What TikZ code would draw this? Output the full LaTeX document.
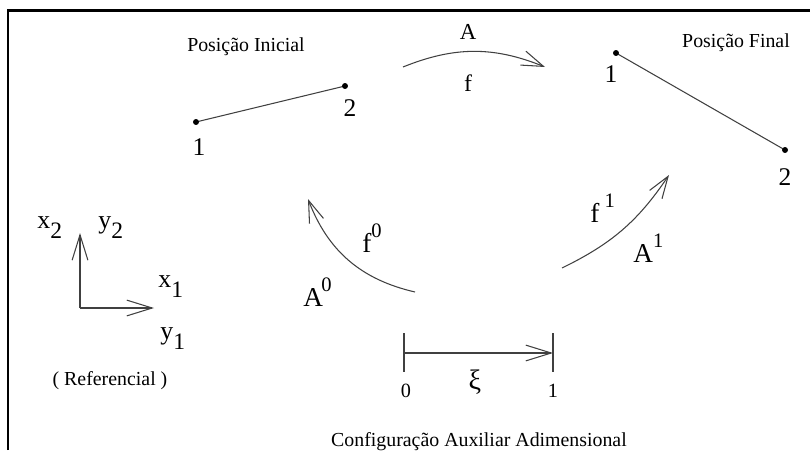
\documentclass[tikz,border=0pt]{standalone}
\usepackage{fontspec}
\setmainfont{Liberation Serif}
\usetikzlibrary{arrows.meta}

\newcommand{\supr}[1]{\raisebox{8.5pt}{\fontsize{11.7}{12}\selectfont #1}}
\newcommand{\subr}[1]{\raisebox{-6.2pt}{\fontsize{13.4}{14}\selectfont #1}}

\begin{document}
\begin{tikzpicture}[x=2cm,y=2cm,
  caption/.style={font=\fontsize{11.3}{13}\selectfont,inner sep=0pt,anchor=base},
  ptlabel/.style={font=\fontsize{14.5}{16}\selectfont,inner sep=0pt,anchor=base},
  maplabel/.style={font=\fontsize{15.5}{17}\selectfont,inner sep=0pt,anchor=base west},
  axlabel/.style={font=\fontsize{14.7}{16}\selectfont,inner sep=0pt,anchor=base west},
  ticklabel/.style={font=\fontsize{11.5}{13}\selectfont,inner sep=0pt,anchor=base},
  seg/.style={draw=black!75,line width=0.6pt},
  dot/.style={fill=black},
  maparr/.style={draw=black!75,line width=0.6pt,-{Straight Barb[length=12.5pt,width=8.5pt]}},
  axarr/.style={draw=black!75,line width=0.6pt,-{Straight Barb[length=14.5pt,width=9pt]}},
]

\useasboundingbox (0,0) rectangle (8.1,4.5);

% Frame
\draw[line width=1.2pt] (0.08,0) -- (0.08,4.395) -- (8.1,4.395);

% Initial position
\node[caption] (tini) at (2.46,3.98) {Posição Inicial};
\coordinate (ini1) at (1.96,3.28);
\coordinate (ini2) at (3.45,3.64);
\draw[seg] (ini1) -- (ini2);
\fill[dot] (ini1) circle[radius=1.7pt];
\fill[dot] (ini2) circle[radius=1.7pt];
\node[ptlabel] (lini1) at (1.99,2.95) {1};
\node[ptlabel] (lini2) at (3.50,3.33) {2};

% Final position
\node[caption] (tfin) at (7.36,4.02) {Posição Final};
\coordinate (fin1) at (6.16,3.97);
\coordinate (fin2) at (7.85,3.00);
\draw[seg] (fin1) -- (fin2);
\fill[dot] (fin1) circle[radius=1.7pt];
\fill[dot] (fin2) circle[radius=1.7pt];
\node[ptlabel] (lfin1) at (6.11,3.67) {1};
\node[ptlabel] (lfin2) at (7.85,2.65) {2};

% Map A, f
\coordinate (aS) at (4.03,3.83);
\coordinate (aE) at (5.45,3.83);
\draw[maparr] (aS) to[bend left=22] (aE);
\node[caption,font=\fontsize{13}{15}\selectfont] (lA) at (4.68,4.10) {A};
\node[caption,font=\fontsize{13.5}{15}\selectfont] (lf) at (4.68,3.58) {f};

% Map A0, f0
\coordinate (a0S) at (4.15,1.58);
\coordinate (a0E) at (3.08,2.51);
\draw[maparr] (a0S) to[bend left=28] (a0E);
\node[maplabel] (lf0) at (3.62,1.98) {f\supr{0}};
\node[maplabel] (lA0) at (3.03,1.44) {A\kern-1pt\supr{0}};

% Map A1, f1
\coordinate (a1S) at (5.62,1.82);
\coordinate (a1E) at (6.69,2.75);
\draw[maparr] (a1S) to[bend right=15] (a1E);
\node[maplabel] (lf1) at (5.90,2.28) {f\kern3pt\supr{1}};
\node[maplabel] (lA1) at (6.33,1.88) {A\supr{1}};

% Reference frame
\coordinate (orig) at (0.80,1.42);
\coordinate (e2) at (0.80,2.17);
\coordinate (e1) at (1.54,1.42);
\draw[axarr] (orig) -- (e2);
\draw[axarr] (orig) -- (e1);
\node[axlabel] (lx2) at (0.37,2.22) {x\subr{2}};
\node[axlabel] (ly2) at (0.98,2.22) {y\subr{2}};
\node[axlabel] (lx1) at (1.58,1.63) {x\subr{1}};
\node[axlabel] (ly1) at (1.60,1.11) {y\subr{1}};
\node[caption] (tref) at (1.10,0.65) {( Referencial )};

% Auxiliary configuration
\coordinate (xi0) at (4.04,0.97);
\coordinate (xi1) at (5.53,0.97);
\draw[seg] (4.04,1.17) -- (4.04,0.78);
\draw[seg] (5.53,1.17) -- (5.53,0.78);
\draw[axarr] (xi0) -- (xi1);
\node[ticklabel] (l0) at (4.06,0.53) {0};
\node[ticklabel] (l1) at (5.53,0.53) {1};
\node[ticklabel,font=\fontsize{16}{17}\selectfont] (lxi) at (4.75,0.61) {ξ};
\node[caption] (taux) at (4.79,0.04) {Configuração Auxiliar Adimensional};

\end{tikzpicture}
\end{document}
